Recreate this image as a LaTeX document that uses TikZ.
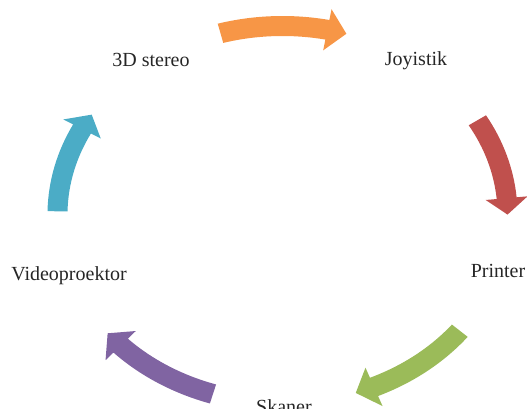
\documentclass[tikz,border=0pt]{standalone}
\usepackage{fontspec}
\setmainfont{Liberation Serif}
\definecolor{aorange}{HTML}{F79646}
\definecolor{ared}{HTML}{C0504D}
\definecolor{agreen}{HTML}{9BBB59}
\definecolor{apurple}{HTML}{8064A2}
\definecolor{ablue}{HTML}{4BACC6}
\def\cx{282.5}
\def\cy{194.4}
\def\rx{225}
\def\ry{188.6}
\def\sw{10}
\def\hw{21}
\newcommand{\cycarrow}[4]{%
  \pgfmathsetmacro{\rxo}{\rx+\sw}\pgfmathsetmacro{\ryo}{\ry+\sw}%
  \pgfmathsetmacro{\rxi}{\rx-\sw}\pgfmathsetmacro{\ryi}{\ry-\sw}%
  \pgfmathsetmacro{\rxh}{\rx+\hw}\pgfmathsetmacro{\ryh}{\ry+\hw}%
  \pgfmathsetmacro{\rxj}{\rx-\hw}\pgfmathsetmacro{\ryj}{\ry-\hw}%
  \fill[#1] ({\cx+\rxo*cos(#2)},{\cy+\ryo*sin(#2)})
    arc[start angle=#2, end angle=#3, x radius=\rxo, y radius=\ryo]
    -- ({\cx+\rxh*cos(#3)},{\cy+\ryh*sin(#3)})
    -- ({\cx+\rx*cos(#4)},{\cy+\ry*sin(#4)})
    -- ({\cx+\rxj*cos(#3)},{\cy+\ryj*sin(#3)})
    -- ({\cx+\rxi*cos(#3)},{\cy+\ryi*sin(#3)})
    arc[start angle=#3, end angle=#2, x radius=\rxi, y radius=\ryi]
    -- cycle;}
\tikzset{lbl/.style={anchor=base, inner sep=0pt, font=\fontsize{20}{24}\selectfont, text=black!85}}
\begin{document}
\begin{tikzpicture}[x=1pt,y=1pt]
\useasboundingbox (0,0) rectangle (527,409);
\cycarrow{aorange}{106}{78.5}{73.5}
\cycarrow{ared}{30}{5}{0}
\cycarrow{agreen}{-38}{-66}{-71}
\cycarrow{apurple}{-108}{-136}{-141}
\cycarrow{ablue}{179}{153}{148}
\node[lbl] (stereo) at (151,342.3) {3D stereo};
\node[lbl] (joy) at (416,343) {Joyistik};
\node[lbl] (printer) at (498,131.3) {Printer};
\node[lbl] (skaner) at (284,-5) {Skaner};
\node[lbl] (video) at (69,128) {Videoproektor};
\end{tikzpicture}
\end{document}
